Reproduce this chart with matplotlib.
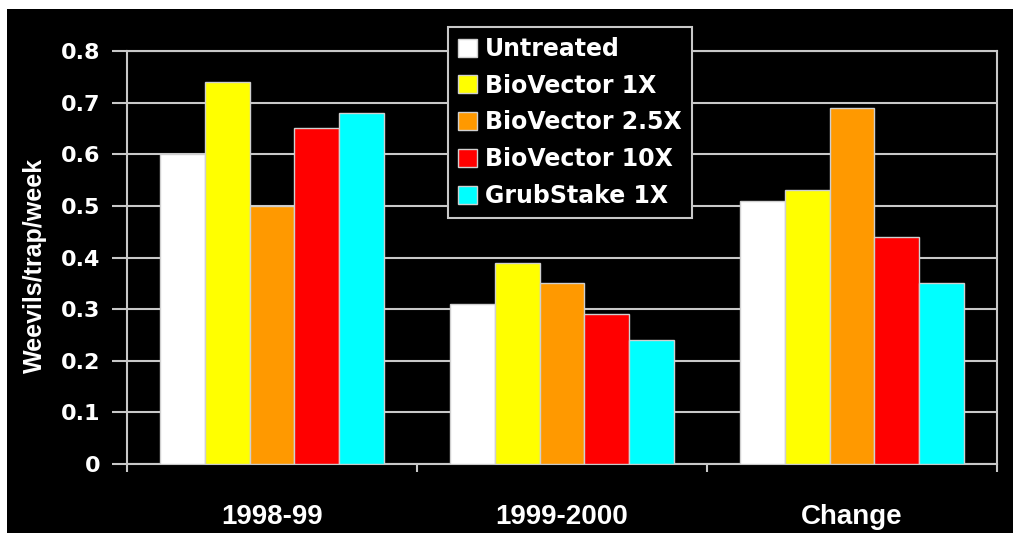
import matplotlib.pyplot as plt
import numpy as np
from matplotlib.patches import Rectangle

# Weevils per trap per week
CATEGORIES = ["1998-99", "1999-2000", "Change"]
SERIES = ["Untreated", "BioVector 1X", "BioVector 2.5X", "BioVector 10X", "GrubStake 1X"]
UNTREATED = [0.60, 0.31, 0.51]
BIOVECTOR_1X = [0.74, 0.39, 0.53]
BIOVECTOR_25X = [0.50, 0.35, 0.69]
BIOVECTOR_10X = [0.65, 0.29, 0.44]
GRUBSTAKE_1X = [0.68, 0.24, 0.35]
COLORS = ["#ffffff", "#ffff00", "#ff9900", "#ff0000", "#00ffff"]
Y_TICKS = [0, 0.1, 0.2, 0.3, 0.4, 0.5, 0.6, 0.7, 0.8]
Y_TICK_LABELS = ["0", "0.1", "0.2", "0.3", "0.4", "0.5", "0.6", "0.7", "0.8"]

W, H = 1015, 533
GRID = "#c8c8c8"

fig = plt.figure(figsize=(W / 100, H / 100), dpi=100, facecolor="white")
# black panel, white strip at top/left like the scanned original
fig.patches.append(Rectangle((7 / W, 0), 1006 / W, 524 / H, transform=fig.transFigure,
                             facecolor="black", edgecolor="none", zorder=-10))

ax = fig.add_axes([127 / W, 1 - 464 / H, 870 / W, 413 / H])
ax.set_facecolor("black")

values = [UNTREATED, BIOVECTOR_1X, BIOVECTOR_25X, BIOVECTOR_10X, GRUBSTAKE_1X]
x = np.arange(len(CATEGORIES))
bw = 0.155
for i, (vals, name, col) in enumerate(zip(values, SERIES, COLORS)):
    ax.bar(x + (i - 2) * bw, vals, width=bw, color=col, edgecolor="#d0d0d0",
           linewidth=1.0, label=name, zorder=3)

ax.set_xlim(-0.5, 2.5)
ax.set_ylim(0, 0.8)
ax.set_yticks(Y_TICKS)
ax.set_yticklabels(Y_TICK_LABELS)
ax.yaxis.grid(True, color=GRID, linewidth=1.5, zorder=1)
ax.set_axisbelow(True)

ax.set_xticks(x)
ax.set_xticklabels(CATEGORIES)
ax.set_xticks([-0.5, 0.5, 1.5, 2.5], minor=True)
ax.tick_params(axis="x", which="major", length=0, pad=29, colors="white")
ax.tick_params(axis="x", which="minor", length=6, width=1.5, color=GRID, direction="out")
ax.tick_params(axis="y", length=11, width=1.5, direction="out", pad=8, colors="white")
ax.tick_params(axis="y", color=GRID)
for lab in ax.get_yticklabels():
    lab.set_fontfamily("DejaVu Sans")
    lab.set_fontweight("bold")
    lab.set_fontsize(16)
for lab in ax.get_xticklabels():
    lab.set_fontfamily("Liberation Sans")
    lab.set_fontweight("bold")
    lab.set_fontsize(20)

for side in ["left", "right", "top", "bottom"]:
    ax.spines[side].set_color(GRID)
    ax.spines[side].set_linewidth(1.5)

fig.text(35 / W, 1 - 265 / H, "Weevils/trap/week", rotation=90, ha="center", va="center",
         color="white", fontsize=18, fontweight="bold", family="Liberation Sans")

leg = fig.legend(loc="upper left", bbox_to_anchor=(448 / W, 1 - 27 / H),
                 prop={"family": "DejaVu Sans", "weight": "bold", "size": 17},
                 frameon=True, fancybox=False, facecolor="black", edgecolor=GRID,
                 handlelength=0.8, handleheight=0.8, handletextpad=0.35,
                 labelspacing=0.54, borderpad=0.42, borderaxespad=0)
leg.get_frame().set_linewidth(1.5)
leg.get_frame().set_alpha(1)
for t in leg.get_texts():
    t.set_color("white")

fig.savefig("out.png", dpi=100, facecolor=fig.get_facecolor())
